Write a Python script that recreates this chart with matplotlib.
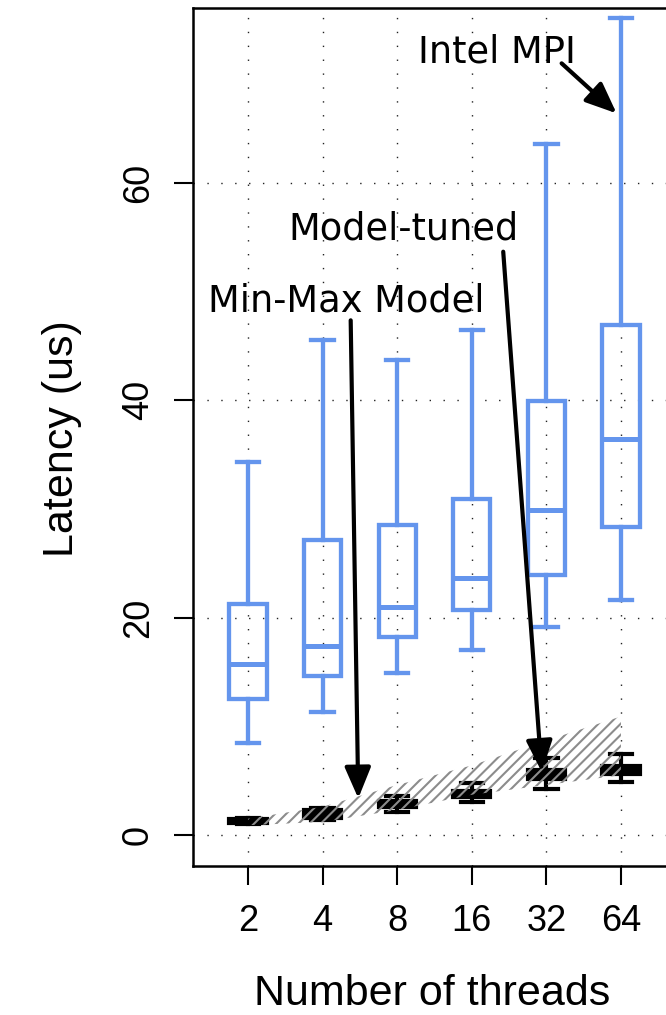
import numpy as np
import matplotlib
matplotlib.use("Agg")
import matplotlib.pyplot as plt

# ---------------------------------------------------------------
# Data
threads = ["2", "4", "8", "16", "32", "64"]

# Intel MPI latency boxes (us): whisker low, q1, median, q3, whisker high
mpi_lo = [8.5, 11.3, 14.9, 17.0, 19.1, 21.6]
mpi_q1 = [12.5, 14.6, 18.2, 20.7, 23.9, 28.3]
mpi_med = [15.7, 17.4, 20.95, 23.6, 29.9, 36.4]
mpi_q3 = [21.2, 27.1, 28.5, 30.9, 39.9, 46.9]
mpi_hi = [34.3, 45.5, 43.65, 46.4, 63.5, 75.15]

# Model-tuned latency boxes (us)
tun_lo = [1.0, 1.4, 2.15, 3.06, 4.2, 4.9]
tun_q1 = [1.1, 1.55, 2.6, 3.46, 5.15, 5.58]
tun_med = [1.3, 1.9, 2.9, 3.8, 5.6, 6.0]
tun_q3 = [1.5, 2.3, 3.16, 4.07, 5.98, 6.34]
tun_hi = [1.6, 2.5, 3.6, 4.8, 7.1, 7.45]

# Min-Max model band (us)
band_lo = [0.9, 1.2, 2.3, 3.7, 4.6, 5.5]
band_hi = [1.5, 2.6, 4.6, 6.4, 8.7, 10.9]

BLUE = "#6495ED"
TICKFONT = "Liberation Sans"


def _stats(lo, q1, med, q3, hi):
    return [dict(whislo=a, q1=b, med=c, q3=d, whishi=e, fliers=[])
            for a, b, c, d, e in zip(lo, q1, med, q3, hi)]


def _plot():
    plt.rcParams["hatch.linewidth"] = 1.5

    fig = plt.figure(figsize=(6.66, 10.15), dpi=100)
    # axes extends past the right edge of the figure (cropped like the reference)
    ax = fig.add_axes([193 / 666, 149 / 1015, 507 / 666, 858 / 1015])

    pos = np.arange(1, len(threads) + 1)

    # dotted grid
    for p in pos:
        ax.axvline(p, color="#222222", lw=1.0, ls=(0, (1, 9)), zorder=0)
    for v in [0, 20, 40, 60]:
        ax.axhline(v, color="#222222", lw=1.0, ls=(0, (1, 9)), zorder=0)

    # Intel MPI boxes
    ax.bxp(_stats(mpi_lo, mpi_q1, mpi_med, mpi_q3, mpi_hi), positions=pos,
           widths=0.5, capwidths=0.3, showfliers=False, patch_artist=True,
           boxprops=dict(facecolor="none", edgecolor=BLUE, lw=3.1),
           whiskerprops=dict(color=BLUE, lw=3.1),
           capprops=dict(color=BLUE, lw=3.1),
           medianprops=dict(color=BLUE, lw=3.6),
           zorder=3)

    # Model-tuned boxes
    ax.bxp(_stats(tun_lo, tun_q1, tun_med, tun_q3, tun_hi), positions=pos,
           widths=0.5, capwidths=0.3, showfliers=False, patch_artist=True,
           boxprops=dict(facecolor="black", edgecolor="black", lw=3.0),
           whiskerprops=dict(color="black", lw=3.0),
           capprops=dict(color="black", lw=3.0),
           medianprops=dict(color="black", lw=3.0),
           zorder=3)

    # Min-Max model hatched band
    ax.fill_between(pos, band_lo, band_hi, facecolor="none",
                    edgecolor="#8c8c8c", hatch="///", linewidth=0, zorder=4)

    # annotations
    afont = dict(family="DejaVu Sans", size=26.5, color="black")
    aprops = dict(arrowstyle="-|>,head_length=0.95,head_width=0.4",
                  color="black", lw=3, mutation_scale=20,
                  shrinkA=0, shrinkB=0)
    ax.text(3.279, 71.08, "Intel MPI", ha="left", va="baseline", zorder=6, **afont)
    ax.annotate("", xy=(5.942, 66.36), xytext=(5.205, 70.96),
                arrowprops=aprops, zorder=6)
    ax.text(1.536, 54.78, "Model-tuned", ha="left", va="baseline", zorder=6, **afont)
    ax.annotate("", xy=(4.937, 5.82), xytext=(4.422, 53.64),
                arrowprops=aprops, zorder=6)
    ax.text(0.464, 48.12, "Min-Max Model", ha="left", va="baseline", zorder=6, **afont)
    ax.annotate("", xy=(2.479, 3.37), xytext=(2.377, 47.33),
                arrowprops=aprops, zorder=6)

    # axes, ticks and labels
    ax.set_xlim(0.263, 7.06)
    ax.set_ylim(-2.85, 76.05)
    ax.set_xticks(pos)
    ax.set_xticklabels(threads, family=TICKFONT, fontsize=26)
    ax.set_yticks([0, 20, 40, 60])
    ax.set_yticklabels(["0", "20", "40", "60"], family=TICKFONT, fontsize=26,
                       rotation=90, va="center")
    ax.tick_params(axis="both", direction="out", length=13.7, width=1.5,
                   color="black")
    ax.tick_params(axis="x", pad=14)
    ax.tick_params(axis="y", pad=13)
    for side in ["left", "top", "bottom"]:
        ax.spines[side].set_linewidth(1.8)
    ax.spines["right"].set_visible(False)

    ax.set_xlabel("Number of threads", family=TICKFONT, fontsize=31)
    ax.xaxis.label.set_va("baseline")
    ax.xaxis.set_label_coords(0.471, -0.162)
    ax.set_ylabel("Latency (us)", family=TICKFONT, fontsize=31)
    ax.yaxis.label.set_va("baseline")
    ax.yaxis.set_label_coords(-0.2367, 0.4977)

    fig.savefig("out.png", dpi=100)


if __name__ == "__main__":
    _plot()
